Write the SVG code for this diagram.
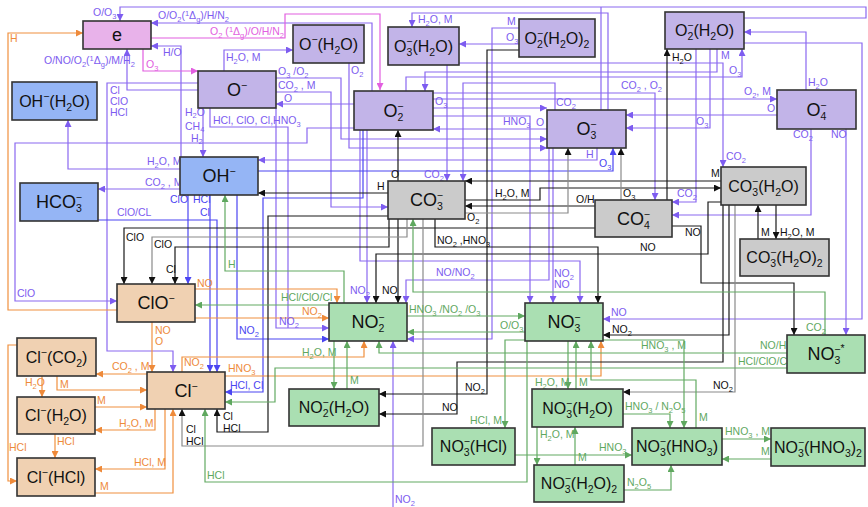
<svg xmlns="http://www.w3.org/2000/svg" width="868" height="507" viewBox="0 0 868 507">
<defs>
<style>
.c{fill:none;stroke-width:1.2}
.v{stroke:#8a68f0}.bl{stroke:#4b45f2}.k{stroke:#1a1a1a}.g{stroke:#8a8a8a}.o{stroke:#f0903e}.gr{stroke:#62aa62}.m{stroke:#e25ee0}
.t{font-family:"Liberation Sans",Arial,sans-serif;font-size:10.5px}
.tv{fill:#7d5cf0}.tb{fill:#4b45f2}.tk{fill:#111}.to{fill:#ee8a3a}.tg{fill:#5fa85f}.tm{fill:#e25ee0}
.b{font-size:7.5px}
.nd rect{stroke:#333;stroke-width:1.6}
.nt{font-family:"Liberation Sans",Arial,sans-serif;font-size:16px;fill:#111;text-anchor:middle}
.big{font-size:18px}
.ns{font-size:10.5px}
.pv{fill:#c2b4e8}.pe{fill:#e8b2ea}.pb{fill:#95b5f5}.pg{fill:#cbcbcb}.pp{fill:#f0d1b2}.pn{fill:#aadfb2}
</style>
<marker id="mv" viewBox="0 0 8 8" refX="8" refY="4" markerWidth="7" markerHeight="7" orient="auto" markerUnits="userSpaceOnUse"><path d="M0,0L8,4L0,8z" fill="#7d5cf0"/></marker>
<marker id="mb" viewBox="0 0 8 8" refX="8" refY="4" markerWidth="7" markerHeight="7" orient="auto" markerUnits="userSpaceOnUse"><path d="M0,0L8,4L0,8z" fill="#4b45f2"/></marker>
<marker id="mk" viewBox="0 0 8 8" refX="8" refY="4" markerWidth="7" markerHeight="7" orient="auto" markerUnits="userSpaceOnUse"><path d="M0,0L8,4L0,8z" fill="#111"/></marker>
<marker id="mo" viewBox="0 0 8 8" refX="8" refY="4" markerWidth="7" markerHeight="7" orient="auto" markerUnits="userSpaceOnUse"><path d="M0,0L8,4L0,8z" fill="#ee8a3a"/></marker>
<marker id="mgr" viewBox="0 0 8 8" refX="8" refY="4" markerWidth="7" markerHeight="7" orient="auto" markerUnits="userSpaceOnUse"><path d="M0,0L8,4L0,8z" fill="#5fa85f"/></marker>
<marker id="mm" viewBox="0 0 8 8" refX="8" refY="4" markerWidth="7" markerHeight="7" orient="auto" markerUnits="userSpaceOnUse"><path d="M0,0L8,4L0,8z" fill="#e25ee0"/></marker>
</defs>
<rect width="868" height="507" fill="#fff"/>

<g id="connectors">
<!-- violet -->
<path class="c v" marker-end="url(#mv)" d="M744,18H866V7H120V21"/>
<path class="c v" marker-end="url(#mv)" d="M372,91V23H151"/>
<path class="c v" marker-end="url(#mv)" d="M181,157V46H151"/>
<path class="c v" marker-end="url(#mv)" d="M198,90H127V49"/>
<path class="c v" marker-end="url(#mv)" d="M224,71V50H293"/>
<path class="c v" marker-end="url(#mv)" d="M198,83H107V351H173V372"/>
<path class="c v" marker-end="url(#mv)" d="M203,108V157"/>
<path class="c v" marker-end="url(#mv)" d="M276,78H341V139H547"/>
<path class="c v" marker-end="url(#mv)" d="M276,92H331V207H388"/>
<path class="c v" marker-end="url(#mv)" d="M354,104H276"/>
<path class="c v" d="M210,108V127H288V328"/>
<path class="c v" marker-end="url(#mv)" d="M276,108V328H329"/>
<path class="c v" marker-end="url(#mv)" d="M354,128H307V143H15V301H117"/>
<path class="c v" marker-end="url(#mv)" d="M608,110V13H412V27"/>
<path class="c v" d="M601,110V7"/>
<path class="c v" marker-end="url(#mv)" d="M519,28H492V339H407"/>
<path class="c v" marker-end="url(#mv)" d="M519,44H459"/>
<path class="c v" marker-end="url(#mv)" d="M349,63V148H547"/>
<path class="c v" marker-end="url(#mv)" d="M406,91V77H742V49"/>
<path class="c v" marker-end="url(#mv)" d="M717,49V72H425V91"/>
<path class="c v" marker-end="url(#mv)" d="M710,49V128H626"/>
<path class="c v" marker-end="url(#mv)" d="M696,49V202H672"/>
<path class="c v" marker-end="url(#mv)" d="M459,63H723V167"/>
<path class="c v" marker-end="url(#mv)" d="M433,108H547"/>
<path class="c v" marker-end="url(#mv)" d="M433,99H777"/>
<path class="c v" marker-end="url(#mv)" d="M555,110V83H463V181"/>
<path class="c v" marker-end="url(#mv)" d="M447,65V181"/>
<path class="c v" marker-end="url(#mv)" d="M777,115H626"/>
<path class="c v" marker-end="url(#mv)" d="M547,129H433"/>
<path class="c v" marker-end="url(#mv)" d="M433,116H530V303"/>
<path class="c v" marker-end="url(#mv)" d="M597,148V160H258"/>
<path class="c v" marker-end="url(#mv)" d="M180,169H68V120"/>
<path class="c v" marker-end="url(#mv)" d="M180,189H98"/>
<path class="c v" marker-end="url(#mv)" d="M433,93H655V200"/>
<path class="c v" marker-end="url(#mv)" d="M806,90V32H744"/>
<path class="c v" marker-end="url(#mv)" d="M811,129V215H672"/>
<path class="c v" marker-end="url(#mv)" d="M846,129V335"/>
<path class="c v" marker-end="url(#mv)" d="M744,43H862V319H603"/>
<path class="c v" marker-end="url(#mv)" d="M553,148V303"/>
<path class="c v" marker-end="url(#mv)" d="M549,148V280H406V303"/>
<path class="c v" marker-end="url(#mv)" d="M367,130V303"/>
<path class="c v" marker-end="url(#mv)" d="M360,130V261H580V303"/>
<path class="c v" marker-end="url(#mv)" d="M393,507V341"/>
<!-- blue -->
<path class="c bl" marker-end="url(#mb)" d="M258,171H613V148"/>
<path class="c bl" marker-end="url(#mb)" d="M98,220H217V372"/>
<path class="c bl" marker-end="url(#mb)" d="M363,130V198H263V392H225"/>
<path class="c bl" marker-end="url(#mb)" d="M188,195V284"/>
<path class="c bl" marker-end="url(#mb)" d="M210,195V372"/>
<path class="c bl" marker-end="url(#mb)" d="M237,195V339H329"/>
<!-- magenta -->
<path class="c m" marker-end="url(#mm)" d="M151,38H285V14H380V90"/>
<path class="c m" marker-end="url(#mm)" d="M143,49V71H198"/>
<!-- orange -->
<path class="c o" marker-end="url(#mo)" d="M117,310H8V33H83"/>
<path class="c o" marker-end="url(#mo)" d="M195,289H337V303"/>
<path class="c o" marker-end="url(#mo)" d="M195,318H329"/>
<path class="c o" marker-end="url(#mo)" d="M152,322V372"/>
<path class="c o" marker-end="url(#mo)" d="M182,372V357H364V341"/>
<path class="c o" marker-end="url(#mo)" d="M225,376H601V341"/>
<path class="c o" marker-end="url(#mo)" d="M147,374H96"/>
<path class="c o" marker-end="url(#mo)" d="M57,376V390H147"/>
<path class="c o" marker-end="url(#mo)" d="M42,376V397"/>
<path class="c o" marker-end="url(#mo)" d="M17,345H8V481H17"/>
<path class="c o" marker-end="url(#mo)" d="M95,407H147"/>
<path class="c o" marker-end="url(#mo)" d="M155,409V430H95"/>
<path class="c o" marker-end="url(#mo)" d="M55,434V458"/>
<path class="c o" marker-end="url(#mo)" d="M165,409V469H95"/>
<path class="c o" marker-end="url(#mo)" d="M95,493H173V409"/>
<!-- black -->
<path class="c k" marker-end="url(#mk)" d="M398,181V130"/>
<path class="c k" marker-end="url(#mk)" d="M721,181H465"/>
<path class="c k" marker-end="url(#mk)" d="M465,200H540V188H721"/>
<path class="c k" marker-end="url(#mk)" d="M595,206H465"/>
<path class="c k" marker-end="url(#mk)" d="M388,193H258"/>
<path class="c k" marker-end="url(#mk)" d="M398,219V303"/>
<path class="c k" marker-end="url(#mk)" d="M595,228H124V284"/>
<path class="c k" marker-end="url(#mk)" d="M389,219V247H175V284"/>
<path class="c k" marker-end="url(#mk)" d="M435,219V247H598V303"/>
<path class="c k" marker-end="url(#mk)" d="M721,202H708V254H376V303"/>
<path class="c k" marker-end="url(#mk)" d="M672,226H701V283H794V335"/>
<path class="c k" marker-end="url(#mk)" d="M388,216H268V432H217V409"/>
<path class="c k" marker-end="url(#mk)" d="M519,50H487V394H379"/>
<path class="c k" marker-end="url(#mk)" d="M723,205V362H457V414H379"/>
<path class="c k" marker-end="url(#mk)" d="M729,205V335H603"/>
<path class="c k" marker-end="url(#mk)" d="M758,239V205"/>
<path class="c k" marker-end="url(#mk)" d="M776,205V239"/>
<path class="c k" marker-end="url(#mk)" d="M667,200V49"/>
<!-- gray -->
<path class="c g" marker-end="url(#mk)" d="M621,200V148"/>
<path class="c g" marker-end="url(#mk)" d="M465,213H568V148"/>
<path class="c g" marker-end="url(#mk)" d="M407,219V237H152V284"/>
<path class="c g" marker-end="url(#mk)" d="M423,219V446H182V409"/>
<path class="c g" marker-end="url(#mk)" d="M735,205V392H623"/>
<!-- green -->
<path class="c gr" marker-end="url(#mgr)" d="M344,303V271H225V195"/>
<path class="c gr" marker-end="url(#mgr)" d="M329,305H195"/>
<path class="c gr" marker-end="url(#mgr)" d="M825,335V292H413V219"/>
<path class="c gr" marker-end="url(#mgr)" d="M787,353H379V341"/>
<path class="c gr" marker-end="url(#mgr)" d="M787,368H275V402H225"/>
<path class="c gr" marker-end="url(#mgr)" d="M334,341V389"/>
<path class="c gr" marker-end="url(#mgr)" d="M347,389V341"/>
<path class="c gr" marker-end="url(#mgr)" d="M407,316H525"/>
<path class="c gr" marker-end="url(#mgr)" d="M525,332H407"/>
<path class="c gr" marker-end="url(#mgr)" d="M696,428V380H591V341"/>
<path class="c gr" marker-end="url(#mgr)" d="M603,340H684V428"/>
<path class="c gr" marker-end="url(#mgr)" d="M525,340H505V428"/>
<path class="c gr" marker-end="url(#mgr)" d="M527,341V482H205V409"/>
<path class="c gr" marker-end="url(#mgr)" d="M568,341V389"/>
<path class="c gr" marker-end="url(#mgr)" d="M576,389V341"/>
<path class="c gr" marker-end="url(#mgr)" d="M537,427V465"/>
<path class="c gr" marker-end="url(#mgr)" d="M575,465V427"/>
<path class="c gr" marker-end="url(#mgr)" d="M515,455H632"/>
<path class="c gr" marker-end="url(#mgr)" d="M623,414H670V428"/>
<path class="c gr" marker-end="url(#mgr)" d="M624,490H671V465"/>
<path class="c gr" marker-end="url(#mgr)" d="M722,439H771"/>
<path class="c gr" marker-end="url(#mgr)" d="M771,459H722"/>

<!-- labels -->
<g class="t">
<text class="tv" x="93" y="16">O/O<tspan class="b" dy="2.5">3</tspan></text>
<text class="tv" x="158" y="19">O/O<tspan class="b" dy="2.5">2</tspan><tspan dy="-2.5">(</tspan><tspan class="b" dy="-3.5">1</tspan><tspan dy="3.5">Δ</tspan><tspan class="b" dy="2.5">g</tspan><tspan dy="-2.5">)/H/N</tspan><tspan class="b" dy="2.5">2</tspan></text>
<text class="tm" x="284" y="35" text-anchor="end">O<tspan class="b" dy="2.5">2</tspan><tspan dy="-2.5"> (</tspan><tspan class="b" dy="-3.5">1</tspan><tspan dy="3.5">Δ</tspan><tspan class="b" dy="2.5">g</tspan><tspan dy="-2.5">)/O/H/N</tspan><tspan class="b" dy="2.5">2</tspan></text>
<text class="tv" x="163" y="56">H/O</text>
<text class="tv" x="44" y="64">O/NO/O<tspan class="b" dy="2.5">2</tspan><tspan dy="-2.5">(</tspan><tspan class="b" dy="-3.5">1</tspan><tspan dy="3.5">Δ</tspan><tspan class="b" dy="2.5">g</tspan><tspan dy="-2.5">)/M/H</tspan><tspan class="b" dy="2.5">2</tspan></text>
<text class="tm" x="146" y="68">O<tspan class="b" dy="2.5">3</tspan></text>
<text class="tv" x="226" y="61">H<tspan class="b" dy="2.5">2</tspan><tspan dy="-2.5">O, M</tspan></text>
<text class="tv" x="110" y="94">Cl</text>
<text class="tv" x="110" y="105">ClO</text>
<text class="tv" x="110" y="116">HCl</text>
<text class="tv" x="185" y="116">H<tspan class="b" dy="2">2</tspan><tspan dy="-2">O</tspan></text>
<text class="tv" x="185" y="130">CH<tspan class="b" dy="2">4</tspan></text>
<text class="tv" x="191" y="142">H<tspan class="b" dy="2">2</tspan></text>
<text class="tv" x="278" y="75">O<tspan class="b" dy="2.5">3</tspan><tspan dy="-2.5"> /O</tspan><tspan class="b" dy="2.5">2</tspan></text>
<text class="tv" x="278" y="89">CO<tspan class="b" dy="2.5">2</tspan><tspan dy="-2.5"> , M</tspan></text>
<text class="tv" x="284" y="102">O</text>
<text class="tv" x="213" y="124">HCl, ClO, Cl,HNO<tspan class="b" dy="2.5">3</tspan></text>
<text class="tv" x="279" y="325">NO<tspan class="b" dy="2.5">2</tspan></text>
<text class="tv" x="17" y="297">ClO</text>
<text class="tv" x="418" y="23">H<tspan class="b" dy="2.5">2</tspan><tspan dy="-2.5">O, M</tspan></text>
<text class="tv" x="507" y="25">M</text>
<text class="tv" x="506" y="41">O<tspan class="b" dy="2.5">3</tspan></text>
<text class="tv" x="351" y="74">O<tspan class="b" dy="2.5">2</tspan></text>
<text class="tv" x="729" y="74">O<tspan class="b" dy="2.5">3</tspan></text>
<text class="tv" x="721" y="59">M</text>
<text class="tv" x="696" y="125">O<tspan class="b" dy="2.5">3</tspan></text>
<text class="tv" x="677" y="197">CO<tspan class="b" dy="2.5">2</tspan></text>
<text class="tv" x="726" y="160">CO<tspan class="b" dy="2.5">2</tspan></text>
<text class="tv" x="435" y="105">O<tspan class="b" dy="2.5">3</tspan></text>
<text class="tv" x="744" y="95">O<tspan class="b" dy="2.5">2</tspan><tspan dy="-2.5">, M</tspan></text>
<text class="tv" x="556" y="106">CO<tspan class="b" dy="2.5">2</tspan></text>
<text class="tv" x="424" y="178">CO<tspan class="b" dy="2.5">2</tspan></text>
<text class="tv" x="767" y="112">O</text>
<text class="tv" x="536" y="126">O</text>
<text class="tv" x="503" y="125">HNO<tspan class="b" dy="2.5">3</tspan></text>
<text class="tv" x="586" y="158">H</text>
<text class="tb" x="599" y="167">O<tspan class="b" dy="2.5">3</tspan></text>
<text class="tv" x="147" y="165">H<tspan class="b" dy="2.5">2</tspan><tspan dy="-2.5">O, M</tspan></text>
<text class="tv" x="145" y="186">CO<tspan class="b" dy="2.5">2</tspan><tspan dy="-2.5"> , M</tspan></text>
<text class="tv" x="117" y="216">ClO/CL</text>
<text class="tv" x="621" y="89">CO<tspan class="b" dy="2.5">2</tspan><tspan dy="-2.5"> , O</tspan><tspan class="b" dy="2.5">2</tspan></text>
<text class="tv" x="808" y="86">H<tspan class="b" dy="2.5">2</tspan><tspan dy="-2.5">O</tspan></text>
<text class="tv" x="793" y="138">CO<tspan class="b" dy="2.5">2</tspan></text>
<text class="tv" x="831" y="138">NO</text>
<text class="tv" x="611" y="316">NO</text>
<text class="tv" x="554" y="277">NO<tspan class="b" dy="2.5">2</tspan></text>
<text class="tv" x="554" y="288">NO</text>
<text class="tv" x="436" y="276">NO/NO<tspan class="b" dy="2.5">2</tspan></text>
<text class="tv" x="350" y="294">NO<tspan class="b" dy="2.5">2</tspan></text>
<text class="tv" x="395" y="503">NO<tspan class="b" dy="2.5">2</tspan></text>
<text class="tb" x="230" y="389">HCl, Cl</text>
<text class="tb" x="170" y="203">ClO</text>
<text class="tb" x="193" y="203">HCl</text>
<text class="tb" x="200" y="216">Cl</text>
<text class="tb" x="239" y="334">NO<tspan class="b" dy="2.5">2</tspan></text>
<text class="to" x="10" y="42">H</text>
<text class="to" x="197" y="287">NO</text>
<text class="to" x="302" y="315">NO<tspan class="b" dy="2.5">2</tspan></text>
<text class="to" x="155" y="334">NO</text>
<text class="to" x="155" y="345">O</text>
<text class="to" x="184" y="366">NO<tspan class="b" dy="2.5">2</tspan></text>
<text class="to" x="228" y="372">HNO<tspan class="b" dy="2.5">3</tspan></text>
<text class="to" x="112" y="370">CO<tspan class="b" dy="2.5">2</tspan><tspan dy="-2.5"> , M</tspan></text>
<text class="to" x="60" y="388">M</text>
<text class="to" x="25" y="386">H<tspan class="b" dy="2.5">2</tspan><tspan dy="-2.5">O</tspan></text>
<text class="to" x="9" y="451">HCl</text>
<text class="to" x="97" y="404">M</text>
<text class="to" x="119" y="427">H<tspan class="b" dy="2.5">2</tspan><tspan dy="-2.5">O, M</tspan></text>
<text class="to" x="57" y="445">HCl</text>
<text class="to" x="134" y="466">HCl, M</text>
<text class="to" x="100" y="490">M</text>
<text class="tk" x="391" y="178">O</text>
<text class="tk" x="711" y="177">M</text>
<text class="tk" x="495" y="197">H<tspan class="b" dy="2.5">2</tspan><tspan dy="-2.5">O, M</tspan></text>
<text class="tk" x="576" y="203">O/H</text>
<text class="tk" x="377" y="190">H</text>
<text class="tk" x="382" y="294">NO</text>
<text class="tk" x="126" y="241">ClO</text>
<text class="tk" x="154" y="248">ClO</text>
<text class="tk" x="166" y="273">Cl</text>
<text class="tk" x="437" y="244">NO<tspan class="b" dy="2.5">2</tspan><tspan dy="-2.5"> ,HNO</tspan><tspan class="b" dy="2.5">3</tspan></text>
<text class="tk" x="640" y="251">NO</text>
<text class="tk" x="685" y="236">NO</text>
<text class="tk" x="223" y="420">Cl</text>
<text class="tk" x="223" y="432">HCl</text>
<text class="tk" x="186" y="433">Cl</text>
<text class="tk" x="186" y="445">HCl</text>
<text class="tk" x="465" y="391">NO<tspan class="b" dy="2.5">2</tspan></text>
<text class="tk" x="442" y="411">NO</text>
<text class="tk" x="612" y="333">NO<tspan class="b" dy="2.5">2</tspan></text>
<text class="tk" x="713" y="389">NO<tspan class="b" dy="2.5">2</tspan></text>
<text class="tk" x="761" y="236">M</text>
<text class="tk" x="780" y="236">H<tspan class="b" dy="2.5">2</tspan><tspan dy="-2.5">O, M</tspan></text>
<text class="tk" x="672" y="61">H<tspan class="b" dy="2.5">2</tspan><tspan dy="-2.5">O</tspan></text>
<text class="tk" x="623" y="197">O<tspan class="b" dy="2.5">3</tspan></text>
<text class="tk" x="467" y="221">O<tspan class="b" dy="2.5">2</tspan></text>
<text class="tg" x="228" y="268">H</text>
<text class="tg" x="281" y="301">HCl/ClO/Cl</text>
<text class="tg" x="806" y="331">CO<tspan class="b" dy="2.5">2</tspan></text>
<text class="tg" x="760" y="349">NO/H</text>
<text class="tg" x="738" y="365">HCl/ClO/Cl</text>
<text class="tg" x="302" y="356">H<tspan class="b" dy="2.5">2</tspan><tspan dy="-2.5">O, M</tspan></text>
<text class="tg" x="350" y="384">M</text>
<text class="tg" x="409" y="313">HNO<tspan class="b" dy="2.5">3</tspan><tspan dy="-2.5"> /NO</tspan><tspan class="b" dy="2.5">2</tspan><tspan dy="-2.5"> /O</tspan><tspan class="b" dy="2.5">3</tspan></text>
<text class="tg" x="500" y="329">O/O<tspan class="b" dy="2.5">3</tspan></text>
<text class="tg" x="699" y="421">M</text>
<text class="tg" x="641" y="349">HNO<tspan class="b" dy="2.5">3</tspan><tspan dy="-2.5"> , M</tspan></text>
<text class="tg" x="470" y="424">HCl, M</text>
<text class="tg" x="207" y="479">HCl</text>
<text class="tg" x="535" y="386">H<tspan class="b" dy="2.5">2</tspan><tspan dy="-2.5">O, M</tspan></text>
<text class="tg" x="579" y="386">M</text>
<text class="tg" x="540" y="438">H<tspan class="b" dy="2.5">2</tspan><tspan dy="-2.5">O, M</tspan></text>
<text class="tg" x="578" y="461">M</text>
<text class="tg" x="599" y="451">HNO<tspan class="b" dy="2.5">3</tspan></text>
<text class="tg" x="625" y="410">HNO<tspan class="b" dy="2.5">3</tspan><tspan dy="-2.5"> / N</tspan><tspan class="b" dy="2.5">2</tspan><tspan dy="-2.5">O</tspan><tspan class="b" dy="2.5">5</tspan></text>
<text class="tg" x="627" y="486">N<tspan class="b" dy="2.5">2</tspan><tspan dy="-2.5">O</tspan><tspan class="b" dy="2.5">5</tspan></text>
<text class="tg" x="725" y="435">HNO<tspan class="b" dy="2.5">3</tspan><tspan dy="-2.5"> , M</tspan></text>
<text class="tg" x="761" y="455">M</text>
</g>
</g>

<g id="n-e" class="nd"><rect class="pe" x="83" y="21" width="68" height="28"/><text class="nt big" x="117" y="41">e</text></g>
<g id="n-Om" class="nd"><rect class="pv" x="198" y="71" width="78" height="37"/><text class="nt big" x="237" y="96">O<tspan class="ns" dy="-7">−</tspan></text></g>
<g id="n-OHm-H2O" class="nd"><rect class="pb" x="12" y="82" width="85" height="38"/><text class="nt" x="54.5" y="107">OH<tspan class="ns" dy="-7">−</tspan><tspan dy="7">(H</tspan><tspan class="ns" dy="4">2</tspan><tspan dy="-4">O)</tspan></text></g>
<g id="n-Om-H2O" class="nd"><rect class="pv" x="293" y="25" width="71" height="38"/><text class="nt" x="328.5" y="50">O<tspan class="ns" dy="-7">−</tspan><tspan dy="7">(H</tspan><tspan class="ns" dy="4">2</tspan><tspan dy="-4">O)</tspan></text></g>
<g id="n-O3m-H2O" class="nd"><rect class="pv" x="388" y="27" width="71" height="38"/><text class="nt" x="423.5" y="52">O<tspan class="ns" dy="4">3</tspan><tspan class="ns" dx="-6" dy="-11">−</tspan><tspan dy="7">(H</tspan><tspan class="ns" dy="4">2</tspan><tspan dy="-4">O)</tspan></text></g>
<g id="n-O2m-H2O2" class="nd"><rect class="pv" x="519" y="19" width="76" height="38"/><text class="nt" x="557" y="44">O<tspan class="ns" dy="4">2</tspan><tspan class="ns" dx="-6" dy="-11">−</tspan><tspan dy="7">(H</tspan><tspan class="ns" dy="4">2</tspan><tspan dy="-4">O)</tspan><tspan class="ns" dy="4">2</tspan></text></g>
<g id="n-O2m-H2O" class="nd"><rect class="pv" x="665" y="12" width="79" height="37"/><text class="nt" x="704.5" y="36">O<tspan class="ns" dy="4">2</tspan><tspan class="ns" dx="-6" dy="-11">−</tspan><tspan dy="7">(H</tspan><tspan class="ns" dy="4">2</tspan><tspan dy="-4">O)</tspan></text></g>
<g id="n-O2m" class="nd"><rect class="pv" x="354" y="91" width="79" height="39"/><text class="nt big" x="393.5" y="117">O<tspan class="ns" dy="4">2</tspan><tspan class="ns" dx="-6" dy="-11">−</tspan></text></g>
<g id="n-O3m" class="nd"><rect class="pv" x="547" y="110" width="79" height="38"/><text class="nt big" x="586.5" y="135">O<tspan class="ns" dy="4">3</tspan><tspan class="ns" dx="-6" dy="-11">−</tspan></text></g>
<g id="n-O4m" class="nd"><rect class="pv" x="777" y="90" width="79" height="39"/><text class="nt big" x="816.5" y="116">O<tspan class="ns" dy="4">4</tspan><tspan class="ns" dx="-6" dy="-11">−</tspan></text></g>
<g id="n-OHm" class="nd"><rect class="pb" x="180" y="157" width="78" height="38"/><text class="nt big" x="219" y="182">OH<tspan class="ns" dy="-7">−</tspan></text></g>
<g id="n-HCO3m" class="nd"><rect class="pb" x="20" y="183" width="78" height="38"/><text class="nt big" x="59" y="208">HCO<tspan class="ns" dy="4">3</tspan><tspan class="ns" dx="-6" dy="-11">−</tspan></text></g>
<g id="n-CO3m" class="nd"><rect class="pg" x="388" y="181" width="77" height="38"/><text class="nt big" x="426.5" y="206">CO<tspan class="ns" dy="4">3</tspan><tspan class="ns" dx="-6" dy="-11">−</tspan></text></g>
<g id="n-CO4m" class="nd"><rect class="pg" x="595" y="200" width="77" height="37"/><text class="nt big" x="633.5" y="225">CO<tspan class="ns" dy="4">4</tspan><tspan class="ns" dx="-6" dy="-11">−</tspan></text></g>
<g id="n-CO3m-H2O" class="nd"><rect class="pg" x="721" y="167" width="85" height="38"/><text class="nt" x="763.5" y="192">CO<tspan class="ns" dy="4">3</tspan><tspan class="ns" dx="-6" dy="-11">−</tspan><tspan dy="7">(H</tspan><tspan class="ns" dy="4">2</tspan><tspan dy="-4">O)</tspan></text></g>
<g id="n-CO3m-H2O2" class="nd"><rect class="pg" x="740" y="239" width="89" height="37"/><text class="nt" x="784.5" y="263">CO<tspan class="ns" dy="4">3</tspan><tspan class="ns" dx="-6" dy="-11">−</tspan><tspan dy="7">(H</tspan><tspan class="ns" dy="4">2</tspan><tspan dy="-4">O)</tspan><tspan class="ns" dy="4">2</tspan></text></g>
<g id="n-ClOm" class="nd"><rect class="pp" x="117" y="284" width="78" height="38"/><text class="nt big" x="156" y="309">ClO<tspan class="ns" dy="-7">−</tspan></text></g>
<g id="n-NO2m" class="nd"><rect class="pn" x="329" y="303" width="78" height="38"/><text class="nt big" x="368" y="328">NO<tspan class="ns" dy="4">2</tspan><tspan class="ns" dx="-6" dy="-11">−</tspan></text></g>
<g id="n-NO3m" class="nd"><rect class="pn" x="525" y="303" width="78" height="38"/><text class="nt big" x="564" y="328">NO<tspan class="ns" dy="4">3</tspan><tspan class="ns" dx="-6" dy="-11">−</tspan></text></g>
<g id="n-NO3m-star" class="nd"><rect class="pn" x="787" y="335" width="78" height="38"/><text class="nt big" x="826" y="360">NO<tspan class="ns" dy="4">3</tspan><tspan class="ns" dx="-6" dy="-11">−</tspan><tspan class="ns" dy="-1">*</tspan></text></g>
<g id="n-Clm-CO2" class="nd"><rect class="pp" x="17" y="338" width="79" height="38"/><text class="nt" x="56.5" y="363">Cl<tspan class="ns" dy="-7">−</tspan><tspan dy="7">(CO</tspan><tspan class="ns" dy="4">2</tspan><tspan dy="-4">)</tspan></text></g>
<g id="n-Clm-H2O" class="nd"><rect class="pp" x="17" y="397" width="78" height="37"/><text class="nt" x="56" y="421">Cl<tspan class="ns" dy="-7">−</tspan><tspan dy="7">(H</tspan><tspan class="ns" dy="4">2</tspan><tspan dy="-4">O)</tspan></text></g>
<g id="n-Clm-HCl" class="nd"><rect class="pp" x="17" y="458" width="78" height="38"/><text class="nt" x="56" y="483">Cl<tspan class="ns" dy="-7">−</tspan><tspan dy="7">(HCl)</tspan></text></g>
<g id="n-Clm" class="nd"><rect class="pp" x="147" y="372" width="78" height="37"/><text class="nt big" x="186" y="397">Cl<tspan class="ns" dy="-7">−</tspan></text></g>
<g id="n-NO2m-H2O" class="nd"><rect class="pn" x="289" y="389" width="90" height="37"/><text class="nt" x="334" y="413">NO<tspan class="ns" dy="4">2</tspan><tspan class="ns" dx="-6" dy="-11">−</tspan><tspan dy="7">(H</tspan><tspan class="ns" dy="4">2</tspan><tspan dy="-4">O)</tspan></text></g>
<g id="n-NO3m-HCl" class="nd"><rect class="pn" x="432" y="428" width="83" height="37"/><text class="nt" x="473.5" y="452">NO<tspan class="ns" dy="4">3</tspan><tspan class="ns" dx="-6" dy="-11">−</tspan><tspan dy="7">(HCl)</tspan></text></g>
<g id="n-NO3m-H2O" class="nd"><rect class="pn" x="532" y="389" width="91" height="38"/><text class="nt" x="577.5" y="414">NO<tspan class="ns" dy="4">3</tspan><tspan class="ns" dx="-6" dy="-11">−</tspan><tspan dy="7">(H</tspan><tspan class="ns" dy="4">2</tspan><tspan dy="-4">O)</tspan></text></g>
<g id="n-NO3m-H2O2" class="nd"><rect class="pn" x="534" y="465" width="90" height="37"/><text class="nt" x="579" y="489">NO<tspan class="ns" dy="4">3</tspan><tspan class="ns" dx="-6" dy="-11">−</tspan><tspan dy="7">(H</tspan><tspan class="ns" dy="4">2</tspan><tspan dy="-4">O)</tspan><tspan class="ns" dy="4">2</tspan></text></g>
<g id="n-NO3m-HNO3" class="nd"><rect class="pn" x="632" y="428" width="90" height="37"/><text class="nt" x="677" y="452">NO<tspan class="ns" dy="4">3</tspan><tspan class="ns" dx="-6" dy="-11">−</tspan><tspan dy="7">(HNO</tspan><tspan class="ns" dy="4">3</tspan><tspan dy="-4">)</tspan></text></g>
<g id="n-NO3m-HNO3-2" class="nd"><rect class="pn" x="771" y="428" width="94" height="38"/><text class="nt" x="818" y="453">NO<tspan class="ns" dy="4">3</tspan><tspan class="ns" dx="-6" dy="-11">−</tspan><tspan dy="7">(HNO</tspan><tspan class="ns" dy="4">3</tspan><tspan dy="-4">)</tspan><tspan class="ns" dy="4">2</tspan></text></g>
</svg>
